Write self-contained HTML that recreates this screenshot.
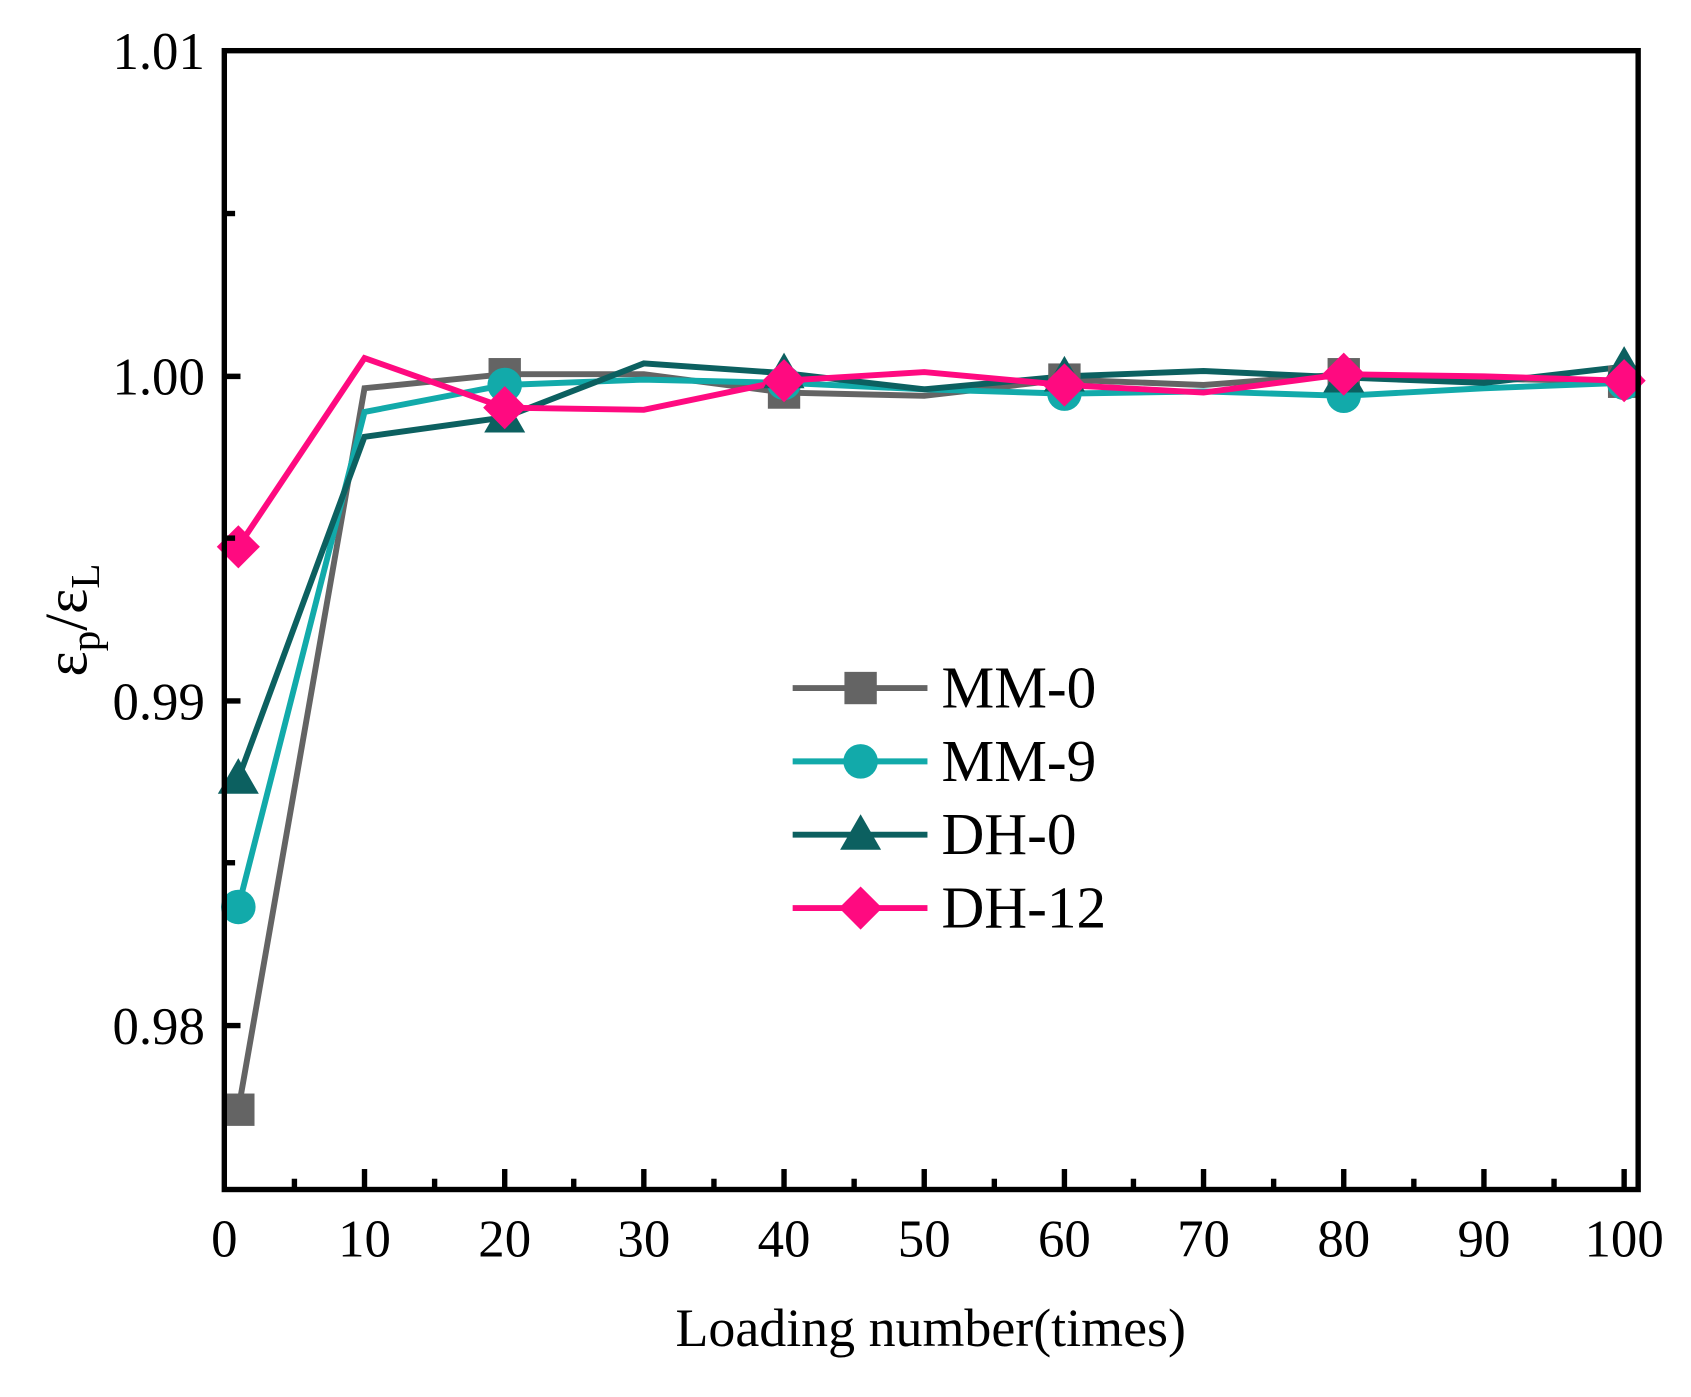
<!DOCTYPE html>
<html><head><style>html,body{margin:0;padding:0;background:#fff}svg{display:block}</style></head>
<body>
<svg width="1691" height="1397" viewBox="0 0 1568 1295.4" preserveAspectRatio="none" xmlns="http://www.w3.org/2000/svg" font-family="Liberation Serif, serif">
<defs>
<g id="sq"><rect x="-15" y="-15" width="30" height="30" fill="#646464"/></g>
<g id="ci"><circle r="16" fill="#12aaaa"/></g>
<g id="tr"><polygon points="0,-19 19,14 -19,14" fill="#0c6060"/></g>
<g id="di"><polygon points="0,-20 20,0 0,20 -20,0" fill="#ff0a80"/></g>
</defs>
<g fill="none" stroke-width="5.5" stroke-linejoin="miter">
<polyline stroke="#646464" points="221,1029 338,360 468,347 597,347 727,364 857,367 987,352 1116,357 1246,347 1376,351 1506,354"/>
<polyline stroke="#12aaaa" points="221,841 338,382 468,357 597,352 727,355 857,361 987,365 1116,363 1246,367 1376,360 1506,355"/>
<polyline stroke="#0c6060" points="221,722 338,405 468,387 597,337 727,346 857,361 987,349 1116,344 1246,350 1376,355 1506,340"/>
<polyline stroke="#ff0a80" points="221,507 338,332 468,378 597,380 727,353 857,345 987,357 1116,364 1246,347 1376,349 1506,353"/>
</g>
<use href="#sq" x="221" y="1029"/><use href="#sq" x="468" y="347"/><use href="#sq" x="727" y="364"/><use href="#sq" x="987" y="352"/><use href="#sq" x="1246" y="347"/><use href="#sq" x="1506" y="354"/>
<use href="#ci" x="221" y="841"/><use href="#ci" x="468" y="357"/><use href="#ci" x="727" y="355"/><use href="#ci" x="987" y="365"/><use href="#ci" x="1246" y="367"/><use href="#ci" x="1506" y="355"/>
<use href="#tr" x="221" y="722"/><use href="#tr" x="468" y="387"/><use href="#tr" x="727" y="346"/><use href="#tr" x="987" y="349"/><use href="#tr" x="1246" y="350"/><use href="#tr" x="1506" y="340"/>
<use href="#di" x="221" y="507"/><use href="#di" x="468" y="378"/><use href="#di" x="727" y="353"/><use href="#di" x="987" y="357"/><use href="#di" x="1246" y="347"/><use href="#di" x="1506" y="353"/>
<rect x="208" y="47" width="1311" height="1056" fill="none" stroke="#000" stroke-width="5"/>
<g stroke="#000" stroke-width="5">
<line x1="208" y1="349" x2="223" y2="349"/><line x1="208" y1="650" x2="223" y2="650"/><line x1="208" y1="951" x2="223" y2="951"/>
<line x1="208" y1="198" x2="218" y2="198"/><line x1="208" y1="499" x2="218" y2="499"/><line x1="208" y1="800" x2="218" y2="800"/>
<line x1="338" y1="1103" x2="338" y2="1084"/><line x1="468" y1="1103" x2="468" y2="1084"/><line x1="597" y1="1103" x2="597" y2="1084"/><line x1="727" y1="1103" x2="727" y2="1084"/><line x1="857" y1="1103" x2="857" y2="1084"/><line x1="987" y1="1103" x2="987" y2="1084"/><line x1="1116" y1="1103" x2="1116" y2="1084"/><line x1="1246" y1="1103" x2="1246" y2="1084"/><line x1="1376" y1="1103" x2="1376" y2="1084"/><line x1="1506" y1="1103" x2="1506" y2="1084"/>
<line x1="273" y1="1103" x2="273" y2="1093"/><line x1="403" y1="1103" x2="403" y2="1093"/><line x1="532" y1="1103" x2="532" y2="1093"/><line x1="662" y1="1103" x2="662" y2="1093"/><line x1="792" y1="1103" x2="792" y2="1093"/><line x1="922" y1="1103" x2="922" y2="1093"/><line x1="1051" y1="1103" x2="1051" y2="1093"/><line x1="1181" y1="1103" x2="1181" y2="1093"/><line x1="1311" y1="1103" x2="1311" y2="1093"/><line x1="1441" y1="1103" x2="1441" y2="1093"/>
</g>
<g font-size="49" fill="#000" text-anchor="end">
<text x="190" y="64">1.01</text><text x="190" y="366">1.00</text><text x="190" y="667">0.99</text><text x="190" y="968">0.98</text>
</g>
<g font-size="49" fill="#000" text-anchor="middle">
<text x="208" y="1165">0</text><text x="338" y="1165">10</text><text x="468" y="1165">20</text><text x="597" y="1165">30</text><text x="727" y="1165">40</text><text x="857" y="1165">50</text><text x="987" y="1165">60</text><text x="1116" y="1165">70</text><text x="1246" y="1165">80</text><text x="1376" y="1165">90</text><text x="1506" y="1165">100</text>
</g>
<text x="863" y="1248" font-size="50" text-anchor="middle">Loading number(times)</text>
<text transform="translate(80,575) rotate(-90)" font-size="56" text-anchor="middle">ε<tspan font-size="38" dy="12">p</tspan><tspan dy="-12">/ε</tspan><tspan font-size="38" dy="12">L</tspan></text>
<g stroke-width="5.5">
<line x1="735" y1="638" x2="860" y2="638" stroke="#646464"/>
<line x1="735" y1="706" x2="860" y2="706" stroke="#12aaaa"/>
<line x1="735" y1="774" x2="860" y2="774" stroke="#0c6060"/>
<line x1="735" y1="842" x2="860" y2="842" stroke="#ff0a80"/>
</g>
<use href="#sq" x="798" y="638"/><use href="#ci" x="798" y="706"/><use href="#tr" x="798" y="774"/><use href="#di" x="798" y="842"/>
<g font-size="55" fill="#000">
<text x="873" y="656">MM-0</text><text x="873" y="724">MM-9</text><text x="873" y="792">DH-0</text><text x="873" y="860">DH-12</text>
</g>
</svg>
</body></html>
